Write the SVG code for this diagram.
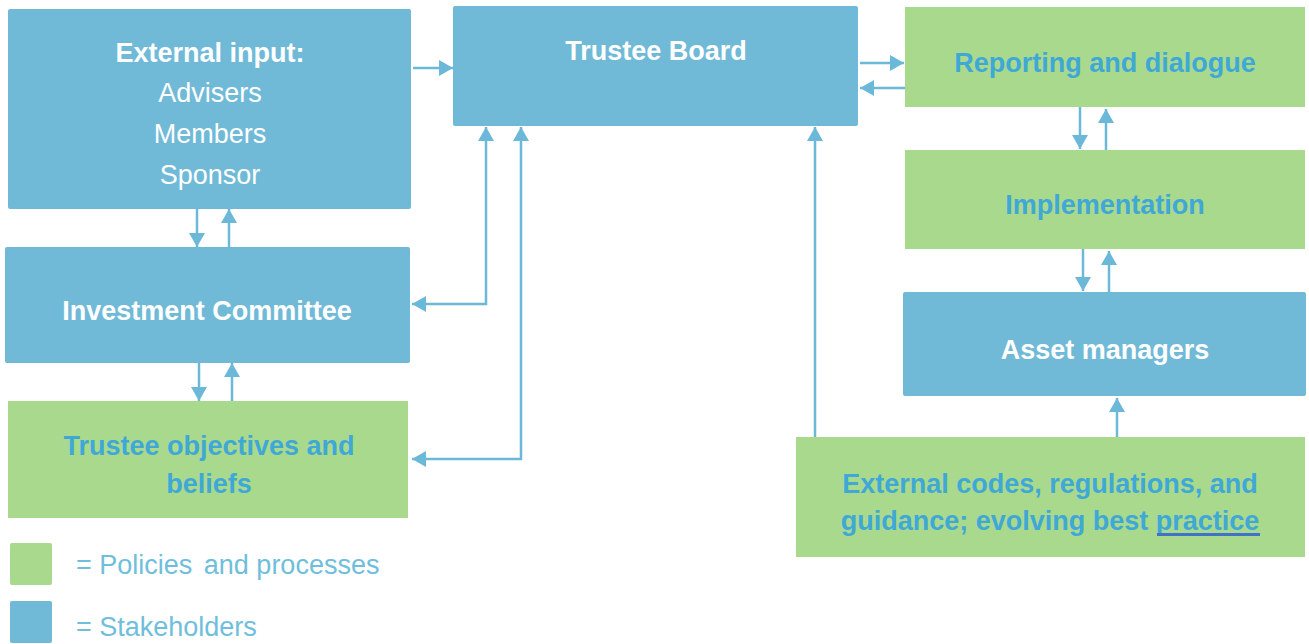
<svg xmlns="http://www.w3.org/2000/svg" width="1309" height="644" viewBox="0 0 1309 644">
  <style>
    .stake { fill: #70BAD8; }
    .policy { fill: #A9D98D; }
    text { font-family: "Liberation Sans", Arial, sans-serif; font-size: 27px; text-anchor: middle; }
    .w { fill: #FFFFFF; }
    .wb { fill: #FFFFFF; font-weight: bold; }
    .bb { fill: #3FA8D6; font-weight: bold; }
    .legend { fill: #6FBEDB; text-anchor: start; }
    .conn { stroke: #6BB8D8; stroke-width: 2.5; fill: none; }
  </style>
  <defs>
    <marker id="arrow" markerUnits="userSpaceOnUse" markerWidth="18" markerHeight="18" refX="14" refY="8" orient="auto-start-reverse">
      <path d="M0,0 L14,8 L0,16 z" fill="#6BB8D8"/>
    </marker>
  </defs>

  <rect width="1309" height="644" fill="#FFFFFF"/>

  <!-- connectors -->
  <g id="connectors" class="conn" marker-end="url(#arrow)">
    <line x1="413" y1="68" x2="453" y2="68"/>
    <line x1="860" y1="63" x2="904" y2="63"/>
    <line x1="905" y1="88" x2="860" y2="88"/>
    <line x1="1080" y1="107" x2="1080" y2="149"/>
    <line x1="1106" y1="150" x2="1106" y2="109"/>
    <line x1="1083" y1="249" x2="1083" y2="291"/>
    <line x1="1109" y1="292" x2="1109" y2="251"/>
    <line x1="1117" y1="437" x2="1117" y2="398"/>
    <line x1="815" y1="437" x2="815" y2="127"/>
    <line x1="197" y1="209" x2="197" y2="247"/>
    <line x1="229" y1="247" x2="229" y2="209"/>
    <line x1="199" y1="363" x2="199" y2="401"/>
    <line x1="232" y1="401" x2="232" y2="363"/>
    <polyline points="486,127 486,304 412,304" marker-start="url(#arrow)"/>
    <polyline points="521,127 521,459 412,459" marker-start="url(#arrow)"/>
  </g>

  <!-- nodes -->
  <g id="external-input">
    <rect class="stake" x="8" y="9" width="403" height="200" rx="2"/>
    <text class="wb" x="210" y="62">External input:</text>
    <text class="w" x="210" y="102">Advisers</text>
    <text class="w" x="210" y="143">Members</text>
    <text class="w" x="210" y="184">Sponsor</text>
  </g>

  <g id="trustee-board">
    <rect class="stake" x="453" y="6" width="405" height="120" rx="2"/>
    <text class="wb" x="656" y="60">Trustee Board</text>
  </g>

  <g id="reporting">
    <rect class="policy" x="905" y="7" width="400" height="100"/>
    <text class="bb" x="1105" y="72">Reporting and dialogue</text>
  </g>

  <g id="implementation">
    <rect class="policy" x="905" y="150" width="400" height="99"/>
    <text class="bb" x="1105" y="214">Implementation</text>
  </g>

  <g id="asset-managers">
    <rect class="stake" x="903" y="292" width="403" height="104" rx="2"/>
    <text class="wb" x="1105" y="359">Asset managers</text>
  </g>

  <g id="investment-committee">
    <rect class="stake" x="5" y="247" width="405" height="116" rx="2"/>
    <text class="wb" x="207" y="320">Investment Committee</text>
  </g>

  <g id="trustee-objectives">
    <rect class="policy" x="8" y="401" width="400" height="117"/>
    <text class="bb" x="209" y="455">Trustee objectives and</text>
    <text class="bb" x="209" y="493">beliefs</text>
  </g>

  <g id="external-codes">
    <rect class="policy" x="796" y="437" width="509" height="120"/>
    <text class="bb" x="1050" y="493">External codes, regulations, and</text>
    <text class="bb" x="1050" y="530">guidance; evolving best practice</text>
    <line x1="1157" y1="534.5" x2="1260" y2="534.5" stroke="#3F72C8" stroke-width="3"/>
  </g>

  <!-- legend -->
  <g id="legend">
    <rect class="policy" x="10" y="543" width="42" height="42" rx="2"/>
    <rect class="stake" x="10" y="601" width="42" height="42" rx="2"/>
    <text class="legend" x="76" y="574">= Policies <tspan dx="4">and processes</tspan></text>
    <text class="legend" x="76" y="636">= Stakeholders</text>
  </g>
</svg>
